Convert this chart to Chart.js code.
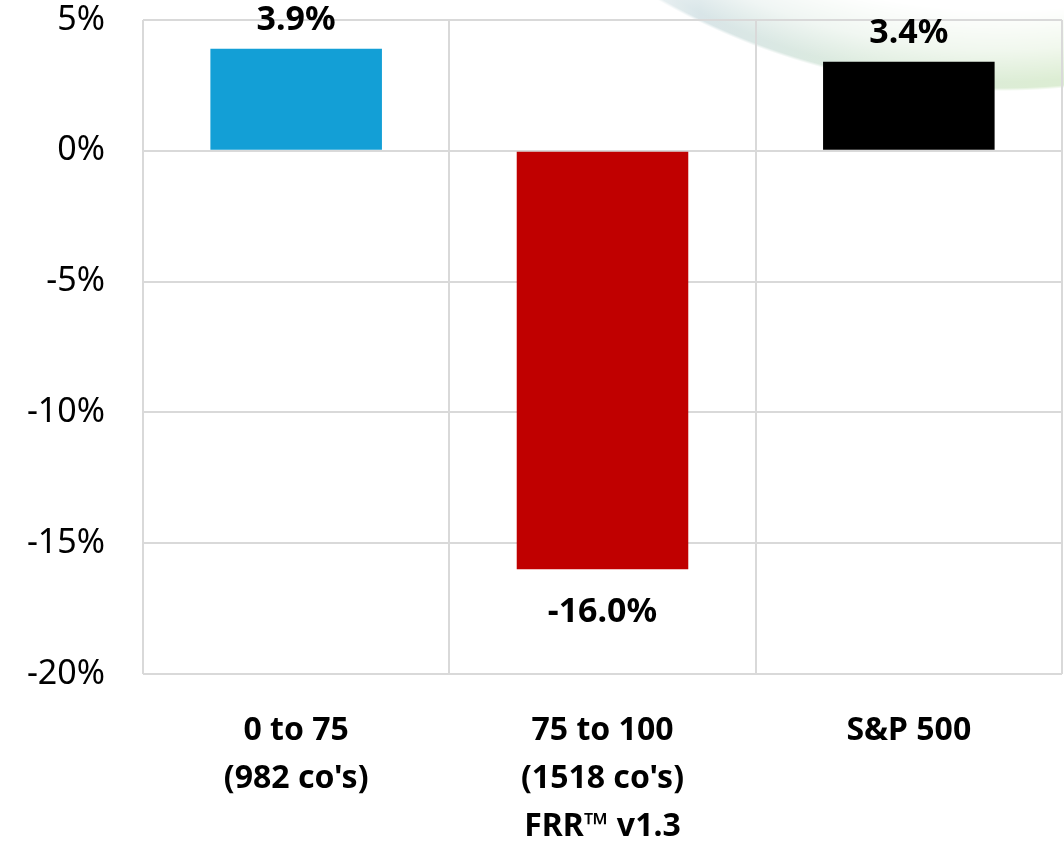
<!DOCTYPE html>
<html>
<head>
<meta charset="utf-8">
<script src="https://cdn.jsdelivr.net/npm/chart.js@4/dist/chart.umd.min.js"></script>
<style>
  html, body { margin: 0; padding: 0; background: #fff; }
  #wrap { position: relative; width: 1064px; height: 846px; overflow: hidden; }
  #swoosh {
    position: absolute; left: 0; top: 0; width: 1064px; height: 846px;
    background: linear-gradient(to right, #ffffff 0px, #ffffff 600px, #d2e1e4 700px, #d6e8d6 880px, #d6eacb 1064px);
    -webkit-mask-image: radial-gradient(circle at 1000px -600px,
      rgba(0,0,0,0) 610px, rgba(0,0,0,0.35) 650px, rgba(0,0,0,0.85) 682px,
      rgba(0,0,0,0.85) 688px, rgba(0,0,0,0) 691px);
    mask-image: radial-gradient(circle at 1000px -600px,
      rgba(0,0,0,0) 610px, rgba(0,0,0,0.35) 650px, rgba(0,0,0,0.85) 682px,
      rgba(0,0,0,0.85) 688px, rgba(0,0,0,0) 691px);
  }
  canvas { position: absolute; left: 0; top: 0; }
</style>
</head>
<body>
<div id="wrap">
  <div id="swoosh"></div>
  <canvas id="chart" width="1064" height="846"></canvas>
</div>
<script>
const categories = [["0 to 75", "(982 co's)"], ["75 to 100", "(1518 co's)"], ["S&P 500"]];
const values = [3.9, -16.0, 3.4];
const barColors = ["#139fd6", "#c00000", "#000000"];
const yTicks = [-20, -15, -10, -5, 0, 5];
const axisTitle = "FRR\u2122 v1.3";

const FONT = "'Noto Sans', 'Open Sans', sans-serif";

// value labels at the end of each bar
const barLabels = {
  id: "barLabels",
  afterDatasetsDraw(chart) {
    const ctx = chart.ctx;
    const meta = chart.getDatasetMeta(0);
    ctx.save();
    ctx.font = "bold 34px " + FONT;
    ctx.fillStyle = "#000";
    ctx.textAlign = "center";
    ctx.textBaseline = "alphabetic";
    meta.data.forEach((bar, i) => {
      const v = values[i];
      const txt = v.toFixed(1) + "%";
      const y = v >= 0 ? bar.y - 19 : bar.y + 53;
      ctx.fillText(txt, bar.x, y);
    });
    ctx.restore();
  }
};

new Chart(document.getElementById("chart"), {
  type: "bar",
  data: {
    labels: categories,
    datasets: [{
      data: values,
      backgroundColor: barColors,
      borderWidth: 0,
      categoryPercentage: 1,
      barPercentage: 0.56
    }]
  },
  options: {
    responsive: false,
    animation: false,
    layout: { padding: { top: 0, right: 2, left: 0, bottom: 0 } },
    plugins: { legend: { display: false }, tooltip: { enabled: false } },
    scales: {
      x: {
        grid: { color: "#d9d9d9", lineWidth: 2, drawTicks: false, offset: true },
        border: { display: false },
        ticks: {
          color: "#000",
          font: { family: FONT, size: 32, weight: "bold", lineHeight: 1.5 },
          padding: 33,
          maxRotation: 0
        },
        title: {
          display: true,
          text: axisTitle,
          color: "#000",
          font: { family: FONT, size: 32, weight: "bold" },
          padding: { top: 0, bottom: 0 }
        },
        afterFit(scale) { scale.height = 172; }
      },
      y: {
        min: -20,
        max: 5,
        afterBuildTicks(scale) { scale.ticks = yTicks.map(v => ({ value: v })); },
        grid: { color: "#d9d9d9", lineWidth: 2, drawTicks: false },
        border: { display: false },
        ticks: {
          color: "#000",
          font: { family: FONT, size: 34 },
          padding: 38,
          callback: v => v + "%"
        },
        afterFit(scale) {
          scale.width = 143;
          scale.paddingTop = 20;
          scale.paddingBottom = 0;
        }
      }
    }
  },
  plugins: [barLabels]
});
</script>
</body>
</html>
